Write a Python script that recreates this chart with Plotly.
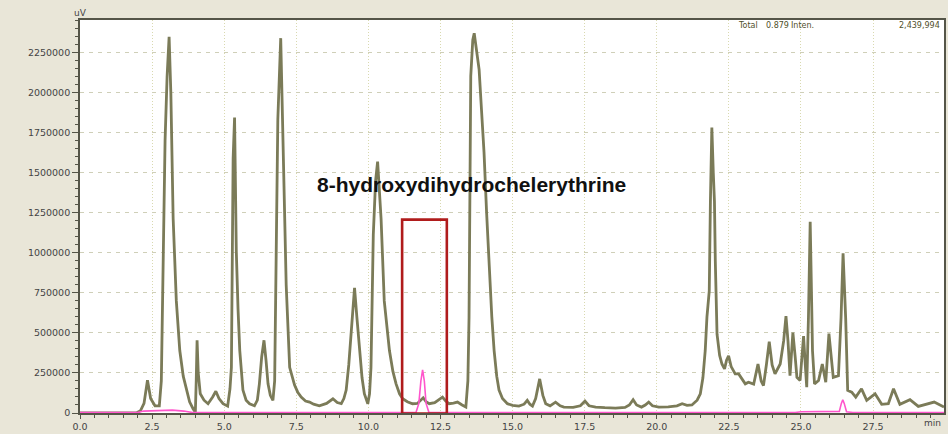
import plotly.graph_objects as go

# ---- main chromatogram (olive trace): retention time (min) and intensity (uV)
main_t = [0.0, 1.95, 2.1, 2.22, 2.34, 2.45, 2.6, 2.75, 2.82, 2.88, 2.95, 3.02, 3.09, 3.15, 3.23, 3.34, 3.46,
          3.58, 3.69, 3.8, 3.92, 4.0, 4.03, 4.06, 4.1, 4.17, 4.3, 4.44, 4.6, 4.71, 4.82, 4.96, 5.12, 5.2,
          5.25, 5.31, 5.36, 5.42, 5.48, 5.54, 5.65, 5.76, 5.88, 6.05, 6.15, 6.22, 6.3, 6.38, 6.45, 6.52,
          6.6, 6.69, 6.75, 6.81, 6.86, 6.96, 7.04, 7.15, 7.27, 7.44, 7.55, 7.67, 7.82, 7.96, 8.1, 8.3,
          8.55, 8.77, 8.92, 9.06, 9.15, 9.23, 9.32, 9.40, 9.52, 9.6, 9.69, 9.78, 9.86, 9.98, 10.04, 10.09,
          10.17, 10.25, 10.32, 10.38, 10.44, 10.55, 10.64, 10.73, 10.85, 10.96, 11.08, 11.19, 11.35,
          11.53, 11.7, 11.8, 11.9, 12.0, 12.11, 12.3, 12.45, 12.57, 12.68, 12.8, 12.95, 13.09, 13.25,
          13.38, 13.45, 13.49, 13.55, 13.62, 13.67, 13.75, 13.84, 13.92, 14.01, 14.1, 14.19, 14.28,
          14.36, 14.45, 14.53, 14.65, 14.82, 15.0, 15.22, 15.4, 15.51, 15.6, 15.69, 15.8, 15.94, 16.05,
          16.15, 16.3, 16.49, 16.65, 16.78, 17.1, 17.35, 17.51, 17.65, 17.88, 18.2, 18.57, 18.9, 19.05,
          19.18, 19.3, 19.47, 19.6, 19.72, 19.85, 20.07, 20.4, 20.7, 20.88, 21.05, 21.22, 21.4, 21.51,
          21.6, 21.68, 21.74, 21.78, 21.82, 21.86, 21.91, 21.96, 22.0, 22.03, 22.09, 22.18, 22.26,
          22.35, 22.42, 22.49, 22.58, 22.72, 22.84, 23.07, 23.18, 23.36, 23.51, 23.62, 23.7, 23.8,
          23.9, 24.0, 24.1, 24.28, 24.4, 24.48, 24.55, 24.62, 24.72, 24.8, 24.86, 24.97, 25.09, 25.15,
          25.2, 25.26, 25.32, 25.36, 25.4, 25.47, 25.61, 25.74, 25.86, 25.97, 26.05, 26.12, 26.3,
          26.39, 26.46, 26.55, 26.62, 26.76, 26.9, 27.1, 27.28, 27.57, 27.8, 28.03, 28.21, 28.43,
          28.78, 29.07, 29.62, 29.96]
main_uv = [0, 0, 15000, 60000, 205000, 90000, 45000, 45000, 200000, 1000000, 1700000, 2100000, 2350000,
           2000000, 1215000, 700000, 390000, 230000, 143000, 70000, 27000, 5000, 200000, 454000, 250000,
           120000, 80000, 58000, 100000, 136000, 90000, 58000, 43000, 150000, 285000, 1587000, 1845000,
           1010000, 650000, 390000, 143000, 80000, 58000, 45000, 80000, 182000, 350000, 454000, 330000,
           182000, 110000, 79000, 200000, 1010000, 1835000, 2341000, 1630000, 800000, 285000, 174000,
           130000, 99000, 75000, 68000, 55000, 45000, 60000, 89000, 65000, 58000, 90000, 143000, 300000,
           492000, 781000, 600000, 389000, 220000, 120000, 58000, 120000, 285000, 1112000, 1450000,
           1570000, 1400000, 1215000, 700000, 520000, 390000, 260000, 182000, 120000, 89000, 70000,
           58000, 60000, 80000, 95000, 70000, 58000, 65000, 85000, 99000, 75000, 58000, 62000, 68000,
           50000, 37000, 200000, 595000, 2104000, 2330000, 2372000, 2250000, 2145000, 1900000, 1628000,
           1250000, 905000, 600000, 390000, 230000, 143000, 90000, 58000, 48000, 43000, 55000, 79000,
           55000, 43000, 90000, 213000, 110000, 58000, 45000, 68000, 45000, 37000, 35000, 45000, 74000,
           45000, 37000, 33000, 31000, 35000, 50000, 83000, 50000, 37000, 50000, 68000, 45000, 37000,
           38000, 45000, 58000, 48000, 50000, 80000, 120000, 220000, 389000, 600000, 719000, 762000,
           1320000, 1783000, 1500000, 1320000, 948000, 492000, 360000, 306000, 275000, 330000, 357000,
           290000, 244000, 244000, 182000, 192000, 180000, 306000, 200000, 171000, 300000, 446000,
           300000, 244000, 306000, 450000, 605000, 450000, 233000, 502000, 350000, 223000, 203000,
           481000, 300000, 161000, 600000, 1194000, 800000, 389000, 182000, 203000, 306000, 192000,
           496000, 350000, 223000, 233000, 595000, 998000, 595000, 141000, 130000, 99000, 151000,
           79000, 120000, 54000, 58000, 151000, 54000, 83000, 41000, 68000, 37000]

# ---- extracted-ion / reference trace (pink)
pink_t = [0.0, 2.0, 2.2, 2.6, 3.2, 3.6, 3.9, 11.65, 11.75, 11.82, 11.88, 11.94, 12.0, 12.1,
          24.8, 25.0, 26.2, 26.33, 26.4, 26.45, 26.5, 26.58, 26.8, 29.96]
pink_uv = [3000, 3000, 12000, 15000, 18000, 12000, 3000, 3000, 60000, 200000, 269000, 200000, 60000,
           3000, 3000, 8000, 8000, 10000, 60000, 83000, 60000, 8000, 3000, 3000]

# ---- axes / labels
x_ticks = [0.0, 2.5, 5.0, 7.5, 10.0, 12.5, 15.0, 17.5, 20.0, 22.5, 25.0, 27.5]
x_ticktext = ["0.0", "2.5", "5.0", "7.5", "10.0", "12.5", "15.0", "17.5", "20.0", "22.5", "25.0", "27.5"]
y_ticks = [0, 250000, 500000, 750000, 1000000, 1250000, 1500000, 1750000, 2000000, 2250000]
y_ticktext = [str(v) for v in y_ticks]
x_range = [0, 29.96]
y_range = [0, 2454500]

compound_label = "8-hydroxydihydrochelerythrine"
label_pos = [13.57, 1425000]    # centre of compound label (min, uV)
box_t = [11.17, 12.72]          # highlighted retention window
box_uv = [-4000, 1208000]
header_labels = ["Total", "0.879", "Inten.", "2,439,994"]

fig = go.Figure()
fig.add_trace(go.Scatter(x=main_t, y=main_uv, mode="lines",
                         line=dict(color="#7b7b58", width=2.8), showlegend=False, hoverinfo="skip"))
fig.add_trace(go.Scatter(x=pink_t, y=pink_uv, mode="lines",
                         line=dict(color="#ff55cc", width=1.6), showlegend=False, hoverinfo="skip"))

fig.add_shape(type="rect", xref="x", yref="y", x0=box_t[0], x1=box_t[1], y0=box_uv[0], y1=box_uv[1],
              line=dict(color="#b01c1c", width=2.6), fillcolor="rgba(0,0,0,0)")

fig.add_annotation(x=label_pos[0], y=label_pos[1], xref="x", yref="y",
                   text="<b>" + compound_label + "</b>", showarrow=False,
                   font=dict(family="Liberation Sans, Arial", size=21, color="#111111"))

fig.add_annotation(x=0, y=1, xref="paper", yref="paper", text="uV", showarrow=False,
                   xanchor="center", yanchor="bottom", yshift=0,
                   font=dict(family="DejaVu Sans", size=9, color="#444444"))
fig.add_annotation(x=29.57, y=0, xref="x", yref="paper", text="min", showarrow=False,
                   xanchor="center", yanchor="top", yshift=-3,
                   font=dict(family="DejaVu Sans", size=9, color="#444444"))

hdr_x = [0.773, 0.807, 0.836, 1.0]
hdr_anchor = ["center", "center", "center", "right"]
for lab, hx, anc in zip(header_labels, hdr_x, hdr_anchor):
    fig.add_annotation(x=hx, y=0.985, xref="paper", yref="paper", text=lab, showarrow=False,
                       xanchor=anc, yanchor="middle", xshift=-2 if anc == "right" else 0,
                       font=dict(family="DejaVu Sans", size=8, color="#50502a"))

fig.update_xaxes(range=x_range, tickmode="array", tickvals=x_ticks, ticktext=x_ticktext,
                 showgrid=True, gridcolor="#d9d9b0", griddash="1px,2px", gridwidth=1,
                 zeroline=False, showline=True, linecolor="#555548", linewidth=1.5, mirror=True,
                 ticks="outside", ticklen=4, tickcolor="#555548",
                 minor=dict(dtick=0.5, ticks="outside", ticklen=3, tickcolor="#555548", showgrid=False),
                 tickfont=dict(family="DejaVu Sans", size=9.5, color="#444444"))
fig.update_yaxes(range=y_range, tickmode="array", tickvals=y_ticks, ticktext=y_ticktext,
                 showgrid=True, gridcolor="#cfcfb8", griddash="4px,5px", gridwidth=1,
                 zeroline=False, showline=True, linecolor="#555548", linewidth=1.8, mirror=True,
                 ticks="outside", ticklen=6, tickcolor="#555548",
                 minor=dict(dtick=50000, ticks="outside", ticklen=3, tickcolor="#555548", showgrid=False),
                 tickfont=dict(family="DejaVu Sans", size=9.5, color="#444444"))

fig.update_layout(width=948, height=434, margin=dict(l=80, r=2, t=20, b=18),
                  paper_bgcolor="#e9e6d8", plot_bgcolor="#ffffff")

fig.write_html("out.html")
